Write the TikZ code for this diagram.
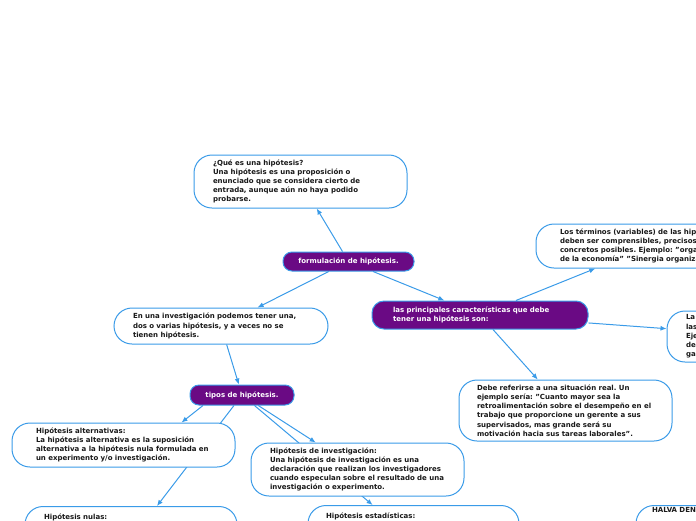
\documentclass[tikz,border=0pt]{standalone}
\usepackage{fontspec}
\setmainfont{DejaVu Sans}
\usetikzlibrary{arrows.meta, backgrounds}
\definecolor{mapblue}{RGB}{58,155,232}
\definecolor{mappurple}{RGB}{106,10,132}
\frenchspacing

\begin{document}
\begin{tikzpicture}[x=1pt, y=-1pt,
  txt/.style={font=\fontsize{7}{9.2}\selectfont\bfseries},
  idea/.style={txt, draw=mapblue, line width=1pt, fill=white, text=black!90,
    rounded corners=18pt, align=left, inner ysep=0pt},
  topic/.style={txt, draw=mapblue, line width=1pt, fill=mappurple, text=white,
    rounded corners=9pt, inner sep=0pt},
  link/.style={draw=mapblue, line width=1pt, -{Latex[length=6pt,width=5pt]}}]
  \useasboundingbox (0,0) rectangle (696,520);
  \clip (0,0) rectangle (696,520);

  \node[topic, minimum width=131pt, minimum height=19pt] (form) at (348.5,261.5) {formulación de hipótesis.};
  \node[idea, text width=175pt, inner xsep=19pt, minimum height=53pt] (que) at (300.5,181.5)
    {¿Qué es una hipótesis?\\Una hipótesis es una proposición o\\enunciado que se considera cierto de\\entrada, aunque aún no haya podido\\probarse.};
  \node[idea, text width=176pt, inner xsep=19pt, minimum height=36pt] (enuna) at (221,326)
    {En una investigación podemos tener una,\\dos o varias hipótesis, y a veces no se\\tienen hipótesis.};
  \node[topic, align=left, text width=174pt, inner xsep=21pt, minimum height=28pt, rounded corners=12pt] (princ) at (480,315)
    {las principales características que debe\\tener una hipótesis son:};
  \node[idea, text width=182pt, inner xsep=24pt, minimum height=44pt] (term) at (651,246)
    {Los términos (variables) de las hipótesis\\deben ser comprensibles, precisos y lo más\\concretos posibles. Ejemplo: "organización\\de la economía" "Sinergia organizacional"};
  \node[idea, text width=175pt, inner xsep=19pt, minimum height=51pt] (la) at (773.5,336.5)
    {La\\las\\Eje\\de\\ga};
  \node[idea, text width=177pt, inner xsep=18pt, minimum height=61pt] (debe) at (565.5,410.5)
    {Debe referirse a una situación real. Un\\ejemplo sería: "Cuanto mayor sea la\\retroalimentación sobre el desempeño en el\\trabajo que proporcione un gerente a sus\\supervisados, mas grande será su\\motivación hacia sus tareas laborales".};
  \node[topic, minimum width=104pt, minimum height=20pt] (tipos) at (242,395) {tipos de hipótesis.};
  \node[idea, text width=175pt, inner xsep=24pt, minimum height=44pt] (alt) at (123.5,445)
    {Hipótesis alternativas:\\La hipótesis alternativa es la suposición\\alternativa a la hipótesis nula formulada en\\un experimento y/o investigación.};
  \node[idea, text width=175pt, inner xsep=19pt, minimum height=53pt] (inv) at (357.5,469.5)
    {Hipótesis de investigación:\\Una hipótesis de investigación es una\\declaración que realizan los investigadores\\cuando especulan sobre el resultado de una\\investigación o experimento.};
  \node[idea, anchor=north, text width=174pt, inner xsep=19pt, inner ysep=6.5pt, text height=6pt, text depth=48pt] (nulas) at (131,506)
    {Hipótesis nulas:};
  \node[idea, anchor=north, text width=175pt, inner xsep=18pt, inner ysep=7pt, text height=6pt, text depth=48pt] (est) at (413.5,505)
    {Hipótesis estadísticas:};
  \node[idea, anchor=north, text width=182pt, inner xsep=16pt, inner ysep=2pt, text height=5pt, text depth=48pt] (halva) at (743,505)
    {HALVA DEN};

  % conectores detras de las cajas
  \begin{pgfonlayer}{background}
    \draw[link] (form) -- (que);
    \draw[link] (form) -- (enuna);
    \draw[link] (form) -- (princ);
    \draw[link] (princ) -- (term);
    \draw[link] (princ) -- (la);
    \draw[link] (princ) -- (debe);
    \draw[link] (enuna) -- (tipos);
    \draw[link] ([xshift=-39pt]tipos.south) -- ([xshift=58pt]alt.north);
    \draw[link] (tipos) -- (nulas);
    \draw[link] (tipos) -- (inv);
    \draw[link] (tipos) -- (est);
  \end{pgfonlayer}
\end{tikzpicture}
\end{document}
